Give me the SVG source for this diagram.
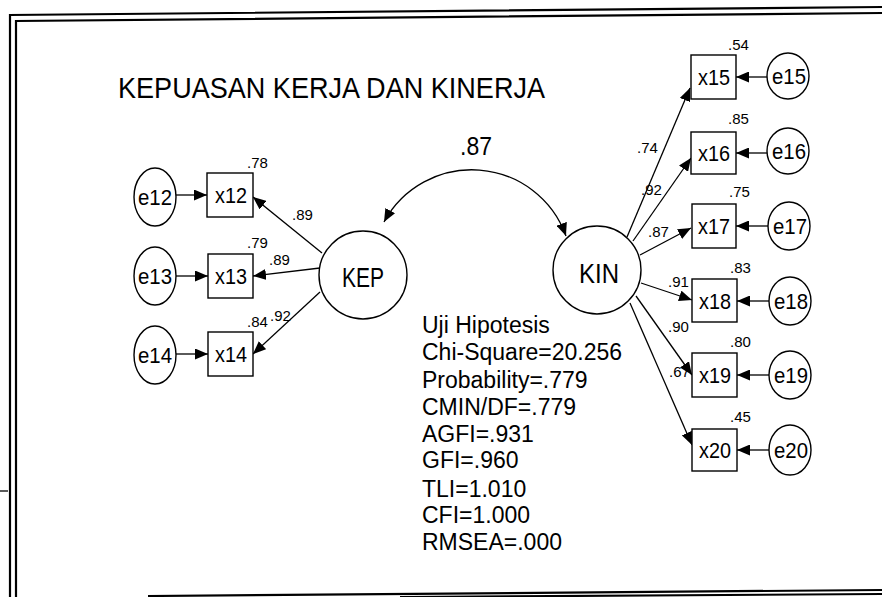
<svg xmlns="http://www.w3.org/2000/svg" width="882" height="597" viewBox="0 0 882 597">
<style>
text{font-family:"Liberation Sans",Arial,sans-serif;fill:#000}
.n{font-size:22px;text-anchor:middle}
.l{font-size:15px}
.s{font-size:23px}
.big{font-size:28px;text-anchor:middle}
.shape{fill:#fff;stroke:#000;stroke-width:1.4}
.c{fill:none;stroke:#000;stroke-width:1.3}
.b{fill:none;stroke:#000;stroke-width:2.2}
</style>
<defs>
<marker id="ah" viewBox="0 0 13 11" refX="13" refY="5.5" markerWidth="13" markerHeight="11" markerUnits="userSpaceOnUse" orient="auto-start-reverse"><path d="M0,0 L13,5.5 L0,11 z" fill="#000"/></marker>
</defs>
<rect width="882" height="597" fill="#fff"/>
<g id="border">
<path class="b" d="M10,597 L10,15 L882,7"/>
<path class="b" d="M16,597 L16,21 L882,13"/>
<path class="b" d="M148,596 L882,590"/>
<path class="b" d="M400,597 L882,594"/>
<path class="c" d="M0,491 L8,491"/>
</g>
<text x="118" y="98" font-size="30" textLength="427" lengthAdjust="spacingAndGlyphs">KEPUASAN KERJA DAN KINERJA</text>
<g id="connectors">
<path class="c" d="M566,236 A100,100 0 0 0 384,222" marker-start="url(#ah)" marker-end="url(#ah)"/>
<line class="c" x1="322" y1="253" x2="253" y2="197" marker-end="url(#ah)"/>
<line class="c" x1="320" y1="268" x2="253" y2="276" marker-end="url(#ah)"/>
<line class="c" x1="320" y1="292" x2="253" y2="354" marker-end="url(#ah)"/>
<line class="c" x1="627" y1="237" x2="690" y2="88" marker-end="url(#ah)"/>
<line class="c" x1="633" y1="241" x2="691" y2="158" marker-end="url(#ah)"/>
<line class="c" x1="640" y1="255" x2="691" y2="228" marker-end="url(#ah)"/>
<line class="c" x1="641" y1="283" x2="692" y2="300" marker-end="url(#ah)"/>
<line class="c" x1="636" y1="296" x2="692" y2="375" marker-end="url(#ah)"/>
<line class="c" x1="630" y1="303" x2="692" y2="445" marker-end="url(#ah)"/>
<line class="c" x1="176" y1="195" x2="207" y2="195" marker-end="url(#ah)"/>
<line class="c" x1="176" y1="276" x2="208" y2="276" marker-end="url(#ah)"/>
<line class="c" x1="176" y1="354" x2="208" y2="354" marker-end="url(#ah)"/>
<line class="c" x1="767" y1="77" x2="736" y2="77" marker-end="url(#ah)"/>
<line class="c" x1="767" y1="153" x2="736" y2="153" marker-end="url(#ah)"/>
<line class="c" x1="768" y1="226" x2="736" y2="226" marker-end="url(#ah)"/>
<line class="c" x1="769" y1="301" x2="737" y2="301" marker-end="url(#ah)"/>
<line class="c" x1="769" y1="375" x2="737" y2="375" marker-end="url(#ah)"/>
<line class="c" x1="769" y1="450" x2="737" y2="450" marker-end="url(#ah)"/>
</g>
<g id="labels">
<text x="460" y="155" font-size="26" textLength="32" lengthAdjust="spacingAndGlyphs">.87</text>
<text class="l" x="292" y="220">.89</text>
<text class="l" x="269" y="265">.89</text>
<text class="l" x="270" y="321">.92</text>
<text class="l" x="637" y="153">.74</text>
<text class="l" x="641" y="195">.92</text>
<text class="l" x="648" y="237">.87</text>
<text class="l" x="668" y="287">.91</text>
<text class="l" x="668" y="332">.90</text>
<text class="l" x="669" y="377">.67</text>
</g>
<g id="KEP"><circle class="shape" cx="363" cy="275" r="44"/><text class="big" x="363" y="287" textLength="42" lengthAdjust="spacingAndGlyphs">KEP</text></g>
<g id="KIN"><circle class="shape" cx="597" cy="270" r="44"/><text class="big" x="599" y="283" textLength="40" lengthAdjust="spacingAndGlyphs">KIN</text></g>
<g id="e12"><ellipse class="shape" cx="155" cy="197" rx="21" ry="29"/><text class="n" x="155" y="205" textLength="34" lengthAdjust="spacingAndGlyphs">e12</text></g>
<g id="e13"><ellipse class="shape" cx="155" cy="276" rx="21" ry="29"/><text class="n" x="155" y="284" textLength="34" lengthAdjust="spacingAndGlyphs">e13</text></g>
<g id="e14"><ellipse class="shape" cx="155" cy="355" rx="21" ry="29"/><text class="n" x="155" y="363" textLength="34" lengthAdjust="spacingAndGlyphs">e14</text></g>
<g id="x12"><rect class="shape" x="207" y="173" width="46" height="44"/><text class="n" x="231" y="203" textLength="32" lengthAdjust="spacingAndGlyphs">x12</text><text class="l" x="247" y="168">.78</text></g>
<g id="x13"><rect class="shape" x="208" y="254" width="45" height="44"/><text class="n" x="231" y="284" textLength="32" lengthAdjust="spacingAndGlyphs">x13</text><text class="l" x="247" y="248">.79</text></g>
<g id="x14"><rect class="shape" x="208" y="332" width="45" height="44"/><text class="n" x="231" y="362" textLength="32" lengthAdjust="spacingAndGlyphs">x14</text><text class="l" x="247" y="327">.84</text></g>
<g id="x15"><rect class="shape" x="691" y="55" width="45" height="44"/><text class="n" x="714" y="85" textLength="32" lengthAdjust="spacingAndGlyphs">x15</text><text class="l" x="728" y="50">.54</text></g>
<g id="x16"><rect class="shape" x="691" y="132" width="45" height="42"/><text class="n" x="714" y="161" textLength="32" lengthAdjust="spacingAndGlyphs">x16</text><text class="l" x="728" y="124">.85</text></g>
<g id="x17"><rect class="shape" x="692" y="204" width="44" height="44"/><text class="n" x="714" y="234" textLength="32" lengthAdjust="spacingAndGlyphs">x17</text><text class="l" x="729" y="197">.75</text></g>
<g id="x18"><rect class="shape" x="692" y="279" width="45" height="43"/><text class="n" x="715" y="309" textLength="32" lengthAdjust="spacingAndGlyphs">x18</text><text class="l" x="730" y="273">.83</text></g>
<g id="x19"><rect class="shape" x="692" y="353" width="45" height="44"/><text class="n" x="715" y="383" textLength="32" lengthAdjust="spacingAndGlyphs">x19</text><text class="l" x="730" y="347">.80</text></g>
<g id="x20"><rect class="shape" x="692" y="429" width="45" height="42"/><text class="n" x="715" y="458" textLength="32" lengthAdjust="spacingAndGlyphs">x20</text><text class="l" x="730" y="422">.45</text></g>
<g id="e15"><ellipse class="shape" cx="788" cy="76" rx="21" ry="23"/><text class="n" x="789" y="84" textLength="34" lengthAdjust="spacingAndGlyphs">e15</text></g>
<g id="e16"><ellipse class="shape" cx="788" cy="151" rx="21" ry="23"/><text class="n" x="789" y="159" textLength="34" lengthAdjust="spacingAndGlyphs">e16</text></g>
<g id="e17"><ellipse class="shape" cx="789" cy="226" rx="21" ry="24"/><text class="n" x="790" y="234" textLength="34" lengthAdjust="spacingAndGlyphs">e17</text></g>
<g id="e18"><ellipse class="shape" cx="790" cy="301" rx="21" ry="24"/><text class="n" x="791" y="309" textLength="34" lengthAdjust="spacingAndGlyphs">e18</text></g>
<g id="e19"><ellipse class="shape" cx="790" cy="375" rx="21" ry="24"/><text class="n" x="791" y="383" textLength="34" lengthAdjust="spacingAndGlyphs">e19</text></g>
<g id="e20"><ellipse class="shape" cx="790" cy="450" rx="21" ry="25"/><text class="n" x="791" y="458" textLength="34" lengthAdjust="spacingAndGlyphs">e20</text></g>
<g id="stats">
<text class="s" x="422" y="333">Uji Hipotesis</text>
<text class="s" x="422" y="360">Chi-Square=20.256</text>
<text class="s" x="422" y="388">Probability=.779</text>
<text class="s" x="422" y="415">CMIN/DF=.779</text>
<text class="s" x="422" y="442">AGFI=.931</text>
<text class="s" x="422" y="468">GFI=.960</text>
<text class="s" x="422" y="497">TLI=1.010</text>
<text class="s" x="422" y="523">CFI=1.000</text>
<text class="s" x="422" y="550">RMSEA=.000</text>
</g>
</svg>
